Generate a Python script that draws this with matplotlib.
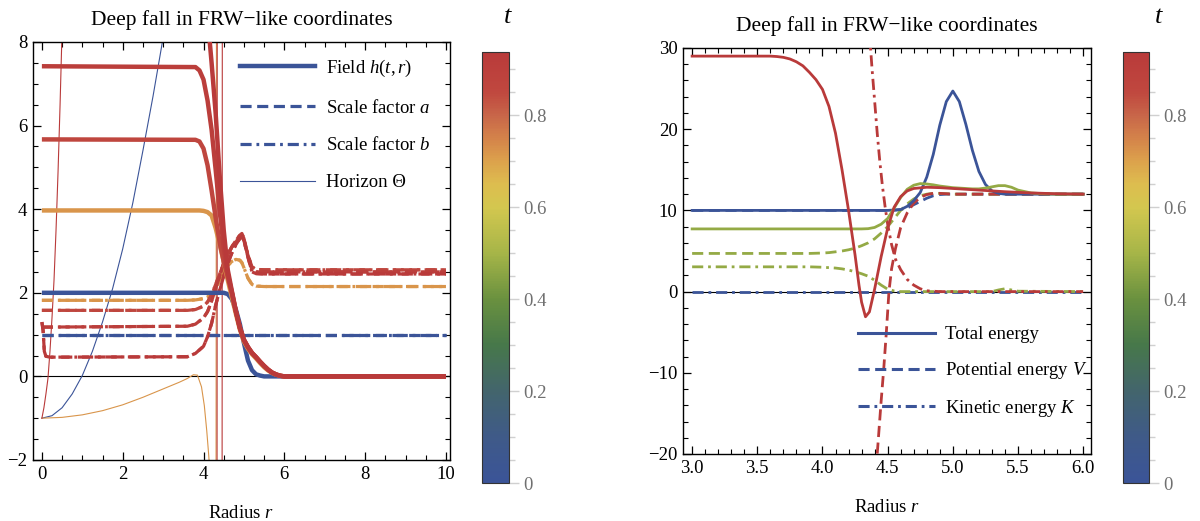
import numpy as np
import matplotlib
matplotlib.use("Agg")
import matplotlib.pyplot as plt
from matplotlib.colors import LinearSegmentedColormap, Normalize
from matplotlib.cm import ScalarMappable
from matplotlib.lines import Line2D
from matplotlib.ticker import MultipleLocator, FormatStrFormatter

plt.rcParams['font.family'] = ['Liberation Serif', 'DejaVu Serif']
plt.rcParams['mathtext.fontset'] = 'custom'
plt.rcParams['mathtext.rm'] = 'Liberation Serif'
plt.rcParams['mathtext.it'] = 'Liberation Serif:italic'
plt.rcParams['lines.scale_dashes'] = False
plt.rcParams['axes.unicode_minus'] = True

# ---------------- colour scale (t) ----------------
cmap_t = [0.00, 0.10, 0.20, 0.30, 0.40, 0.50, 0.60, 0.65, 0.70, 0.75, 0.80, 0.85, 0.937]
cmap_colors = ['#3B5498', '#3F5A88', '#43656C', '#47784A', '#6A913F', '#A6B548',
               '#D3C74F', '#DDBD4F', '#DCA24C', '#D4834A', '#C86649', '#C0483F', '#B93A3A']
t_max = 0.937
cbar_ticks = [0, 0.2, 0.4, 0.6, 0.8]
cbar_labels = ['0', '0.2', '0.4', '0.6', '0.8']

# ---------------- left panel data ----------------
times_left = [0.0, 0.72, 0.86, 0.91, 0.937]

h_r_blue = [0, 4.5, 4.6, 4.7, 4.8, 4.9, 5.0, 5.1, 5.2, 5.3, 5.4, 5.5, 10]
h_blue = [2, 2, 1.97, 1.85, 1.6, 1.25, 0.8, 0.38, 0.15, 0.05, 0.02, 0, 0]

h_r = [0, 3.8, 3.9, 4.0, 4.1, 4.2, 4.3, 4.4, 4.5, 4.6, 4.7, 4.8, 4.9, 5.0,
       5.1, 5.2, 5.3, 5.4, 5.5, 5.6, 5.7, 5.8, 5.9, 6.0, 10]
h_orange = [3.97, 3.97, 3.97, 3.96, 3.93, 3.85, 3.55, 3.15, 2.75, 2.3, 1.9, 1.5, 1.12, 0.83,
            0.66, 0.53, 0.43, 0.32, 0.22, 0.14, 0.08, 0.04, 0.015, 0.0, 0.0]
h_red1 = [5.67, 5.66, 5.62, 5.45, 5.05, 4.45, 3.8, 3.2, 2.75, 2.38, 2.0, 1.55, 1.15, 0.87,
          0.7, 0.56, 0.46, 0.35, 0.25, 0.16, 0.09, 0.045, 0.015, 0.0, 0.0]
h_red2 = [7.42, 7.40, 7.32, 7.1, 6.6, 5.9, 4.95, 3.95, 3.1, 2.45, 2.02, 1.56, 1.16, 0.87,
          0.7, 0.56, 0.46, 0.35, 0.25, 0.16, 0.09, 0.045, 0.015, 0.0, 0.0]
h_red3 = [9.8, 9.8, 9.7, 9.4, 8.6, 7.5, 6.3, 4.8, 3.5, 2.55, 2.05, 1.57, 1.17, 0.88,
          0.7, 0.56, 0.46, 0.35, 0.25, 0.16, 0.09, 0.045, 0.015, 0.0, 0.0]

ab_r = [0, 0.03, 0.06, 0.1, 0.2, 3.6, 3.8, 4.0, 4.1, 4.2, 4.3, 4.4, 4.5, 4.6,
        4.7, 4.8, 4.9, 4.95, 5.0, 5.1, 5.2, 5.3, 5.5, 10]
ab_blue = [1.0] * 24
ab_orange = [1.82, 1.82, 1.82, 1.82, 1.82, 1.82, 1.83, 1.86, 1.9, 1.97, 2.1, 2.3, 2.5, 2.65,
             2.75, 2.8, 2.78, 2.72, 2.6, 2.35, 2.2, 2.16, 2.15, 2.15]
ab_red1 = [1.58, 1.58, 1.58, 1.58, 1.58, 1.58, 1.6, 1.68, 1.78, 1.95, 2.2, 2.45, 2.7, 2.92,
           3.08, 3.22, 3.32, 3.35, 3.25, 2.9, 2.62, 2.56, 2.55, 2.55]
ab_red2 = [1.18, 1.18, 1.18, 1.18, 1.18, 1.2, 1.25, 1.4, 1.55, 1.8, 2.1, 2.4, 2.7, 2.92,
           3.1, 3.25, 3.38, 3.42, 3.3, 2.9, 2.55, 2.5, 2.5, 2.5]
ab_red3 = [1.3, 1.1, 0.6, 0.48, 0.46, 0.47, 0.55, 0.72, 0.95, 1.27, 1.7, 2.06, 2.4, 2.7,
           2.95, 3.15, 3.3, 3.35, 3.25, 2.85, 2.5, 2.46, 2.45, 2.45]

theta_r_blue = [0, 0.25, 0.5, 0.75, 1.0, 1.25, 1.5, 1.75, 2.0, 2.25, 2.5, 2.75, 3.0, 3.1]
theta_blue = [-1, -0.94, -0.75, -0.42, 0.02, 0.6, 1.3, 2.1, 3.05, 4.15, 5.4, 6.7, 8.1, 8.7]
theta_r_orange = [0, 0.5, 1, 1.5, 2, 2.5, 3, 3.4, 3.6, 3.75, 3.85, 3.95, 4.02, 4.08, 4.13, 4.17,
                  np.nan, 4.31, 4.32]
theta_orange = [-1, -0.98, -0.92, -0.82, -0.68, -0.5, -0.3, -0.14, -0.05, 0.04, 0.03, -0.25,
                -0.7, -1.3, -1.9, -2.5, np.nan, -2.5, 8.5]
theta_r_red = [0, 0.05, 0.1, 0.15, 0.2, 0.25, 0.3, 0.35, 0.4, 0.45, 0.5,
               np.nan, 4.335, 4.34, np.nan, 4.46, 4.465]
theta_red = [-1, -0.75, -0.42, -0.05, 0.6, 1.4, 2.3, 3.5, 4.9, 6.5, 8.3,
             np.nan, -2.5, 8.5, np.nan, -2.5, 8.5]

# ---------------- right panel data ----------------
times_right = [0.0, 0.47, 0.937]

E_r_blue = [3.0, 4.5, 4.6, 4.65, 4.7, 4.75, 4.8, 4.85, 4.9, 4.95, 5.0, 5.05, 5.1, 5.15,
            5.2, 5.25, 5.3, 5.35, 5.4, 6.0]
E_blue = [10.0, 10.0, 10.1, 10.5, 11.2, 12.2, 14.1, 16.9, 20.5, 23.4, 24.7, 23.4, 20.6, 17.4,
          14.8, 13.2, 12.4, 12.1, 12.0, 12.0]
V_r_blue = [3.0, 4.5, 4.55, 4.6, 4.65, 4.7, 4.75, 4.8, 4.85, 4.9, 4.95, 6.0]
V_blue = [10.0, 10.0, 10.02, 10.1, 10.3, 10.7, 11.1, 11.5, 11.8, 11.95, 12.0, 12.0]
K_r_blue = [3.0, 6.0]
K_blue = [0.0, 0.0]

E_r_green = [3.0, 4.3, 4.35, 4.4, 4.45, 4.5, 4.55, 4.6, 4.65, 4.7, 4.75, 4.8, 4.85, 4.9,
             4.95, 5.0, 5.05, 5.1, 5.15, 5.2, 5.25, 5.3, 5.35, 5.4, 5.45, 5.5, 5.6, 5.7, 5.8, 6.0]
E_green = [7.72, 7.72, 7.75, 7.9, 8.3, 9.0, 10.3, 11.6, 12.6, 13.1, 13.3, 13.25, 13.15, 13.0,
           12.9, 12.8, 12.75, 12.7, 12.65, 12.65, 12.75, 12.9, 13.05, 13.05, 12.85, 12.5, 12.15,
           12.05, 12.0, 12.0]
V_r_green = [3.0, 3.9, 4.0, 4.05, 4.1, 4.15, 4.2, 4.25, 4.3, 4.35, 4.4, 4.45, 4.5, 4.55,
             4.6, 4.65, 4.7, 4.75, 4.8, 4.85, 4.9, 5.0, 6.0]
V_green = [4.7, 4.7, 4.75, 4.8, 4.9, 5.0, 5.15, 5.35, 5.65, 6.0, 6.5, 7.2, 8.0, 9.0,
           10.0, 10.8, 11.4, 11.8, 12.0, 12.1, 12.1, 12.0, 12.0]
K_r_green = [3.0, 3.9, 4.0, 4.1, 4.15, 4.2, 4.25, 4.3, 4.35, 4.4, 4.45, 4.5, 4.55, 4.6,
             5.3, 5.35, 5.4, 5.45, 5.5, 6.0]
K_green = [3.05, 3.05, 3.0, 2.9, 2.8, 2.65, 2.45, 2.2, 1.9, 1.4, 0.8, 0.3, 0.08, 0.0,
           0.0, 0.2, 0.35, 0.2, 0.05, 0.0]

E_r_red = [3.0, 3.6, 3.65, 3.7, 3.75, 3.8, 3.85, 3.9, 3.95, 4.0, 4.05, 4.1, 4.15, 4.2, 4.25,
           4.28, 4.3, 4.33, 4.36, 4.4, 4.45, 4.5, 4.55, 4.6, 4.65, 4.7, 4.8, 4.9, 5.0, 5.2,
           5.4, 5.6, 5.8, 6.0]
E_red = [29.0, 29.0, 28.95, 28.85, 28.65, 28.3, 27.8, 27.0, 26.1, 24.9, 22.8, 19.5, 15.0,
         10.0, 4.5, 0.8, -1.3, -3.1, -2.5, 0.3, 4.3, 7.8, 10.4, 11.7, 12.4, 12.7, 12.85,
         12.8, 12.7, 12.5, 12.3, 12.15, 12.05, 12.0]
V_r_red = [4.41, 4.42, 4.45, 4.47, 4.49, 4.51, 4.53, 4.56, 4.6, 4.65, 4.7, 4.75, 4.8, 4.85,
           4.9, 5.0, 6.0]
V_red = [-22, -20, -13.5, -9.5, -5, 0, 2.8, 5.3, 7.9, 9.7, 10.9, 11.6, 11.95, 12.1,
         12.1, 12.0, 12.0]
K_r_red = [4.36, 4.38, 4.4, 4.42, 4.44, 4.46, 4.48, 4.5, 4.53, 4.56, 4.6, 4.65, 4.7, 4.75,
           4.8, 4.9, 6.0]
K_red = [32, 27.5, 23.5, 19.5, 16, 13, 10.5, 8.3, 5.8, 4.0, 2.7, 1.5, 0.8, 0.35, 0.1, 0.0, 0.0]

# ---------------- figure ----------------
cmap = LinearSegmentedColormap.from_list(
    'darkrainbow', list(zip([t / t_max for t in cmap_t], cmap_colors)))
norm = Normalize(vmin=0, vmax=t_max)

W, H = 1200, 521
fig = plt.figure(figsize=(W / 100, H / 100), dpi=100)


def box(x0, y0, x1, y1):
    return [x0 / W, 1 - y1 / H, (x1 - x0) / W, (y1 - y0) / H]


ax1 = fig.add_axes(box(33, 42, 450, 460))
ax2 = fig.add_axes(box(683, 48, 1091, 454))
cax1 = fig.add_axes(box(482, 52, 509, 483))
cax2 = fig.add_axes(box(1123, 52, 1149, 483))

DASH = (8, 4)
DASHDOT = (8, 3.5, 2, 3.5)
TITLE = "Deep fall in FRW\u2212like coordinates"
FS_TICK = 13.5
FS_LEG = 13.5

# left panel
c = [cmap(norm(t)) for t in times_left]
lw_h, lw_ab, lw_th = 3.2, 2.3, 0.8
ax1.axhline(0, color='black', lw=0.8, zorder=1.5)
ax1.plot(theta_r_blue, theta_blue, color=c[0], lw=lw_th, zorder=2)
ax1.plot(theta_r_orange, theta_orange, color=c[1], lw=lw_th, zorder=2)
ax1.plot(theta_r_red, theta_red, color=c[4], lw=lw_th, zorder=2)
for col, ab in zip(c, [ab_blue, ab_orange, ab_red1, ab_red2, ab_red3]):
    ax1.plot(ab_r, ab, color=col, lw=lw_ab, dashes=DASH, zorder=3)
    ax1.plot(ab_r, ab, color=col, lw=lw_ab, dashes=DASHDOT, zorder=3)
ax1.plot(h_r_blue, h_blue, color=c[0], lw=lw_h, zorder=4, solid_capstyle='butt')
for col, hv in zip(c[1:], [h_orange, h_red1, h_red2, h_red3]):
    ax1.plot(h_r, hv, color=col, lw=lw_h, zorder=4, solid_capstyle='butt')

ax1.set_xlim(-0.22, 10.1)
ax1.set_ylim(-2, 8)
ax1.xaxis.set_major_locator(MultipleLocator(2))
ax1.xaxis.set_minor_locator(MultipleLocator(0.5))
ax1.yaxis.set_major_locator(MultipleLocator(2))
ax1.yaxis.set_minor_locator(MultipleLocator(0.5))

blue = c[0]
leg1_handles = [Line2D([], [], color=blue, lw=3.2),
                Line2D([], [], color=blue, lw=2.3, dashes=DASH),
                Line2D([], [], color=blue, lw=2.3, dashes=DASHDOT),
                Line2D([], [], color=blue, lw=0.8)]
leg1_labels = ["Field $h(t,r)$", "Scale factor $a$", "Scale factor $b$", "Horizon \u0398"]
ax1.legend(leg1_handles, leg1_labels, loc='upper left', bbox_to_anchor=(0.496, 0.962),
           frameon=False, fontsize=FS_LEG, handlelength=4.0, handletextpad=0.6,
           labelspacing=1.05, borderpad=0, borderaxespad=0)

# right panel
cr = [cmap(norm(t)) for t in times_right]
lw_e = 2.0
ax2.axhline(0, color='black', lw=0.8, zorder=1.5)
for col, (er, ev), (vr, vv), (kr, kv) in zip(
        cr,
        [(E_r_blue, E_blue), (E_r_green, E_green), (E_r_red, E_red)],
        [(V_r_blue, V_blue), (V_r_green, V_green), (V_r_red, V_red)],
        [(K_r_blue, K_blue), (K_r_green, K_green), (K_r_red, K_red)]):
    ax2.plot(kr, kv, color=col, lw=lw_e, dashes=DASHDOT, zorder=3)
    ax2.plot(vr, vv, color=col, lw=lw_e, dashes=DASH, zorder=3)
    ax2.plot(er, ev, color=col, lw=lw_e, zorder=4)

ax2.set_xlim(2.93, 6.06)
ax2.set_ylim(-20, 30)
ax2.xaxis.set_major_locator(MultipleLocator(0.5))
ax2.xaxis.set_minor_locator(MultipleLocator(0.1))
ax2.yaxis.set_major_locator(MultipleLocator(10))
ax2.yaxis.set_minor_locator(MultipleLocator(2))
ax2.xaxis.set_major_formatter(FormatStrFormatter('%.1f'))

leg2_handles = [Line2D([], [], color=blue, lw=2.2),
                Line2D([], [], color=blue, lw=2.2, dashes=DASH),
                Line2D([], [], color=blue, lw=2.2, dashes=DASHDOT)]
leg2_labels = ["Total energy", "Potential energy $V$", "Kinetic energy $K$"]
ax2.legend(leg2_handles, leg2_labels, loc='upper left', bbox_to_anchor=(0.429, 0.315),
           frameon=False, fontsize=FS_LEG, handlelength=4.1, handletextpad=0.55,
           labelspacing=0.9, borderpad=0, borderaxespad=0)

for ax in (ax1, ax2):
    ax.set_title(TITLE, fontsize=15.5, pad=12)
    ax.set_xlabel("Radius $r$", fontsize=13.5, labelpad=16)
    ax.tick_params(which='both', direction='in', top=True, right=True, labelsize=FS_TICK,
                   color='black')
    ax.tick_params(which='major', length=6, width=0.9, pad=4)
    ax.tick_params(which='minor', length=3.5, width=0.8)
    for s in ax.spines.values():
        s.set_linewidth(1.0)

# colorbars
sm = ScalarMappable(norm=norm, cmap=cmap)
for cax, tx in ((cax1, 508), (cax2, 1159)):
    cb = fig.colorbar(sm, cax=cax)
    cb.set_ticks(cbar_ticks)
    cb.ax.set_yticklabels(cbar_labels)
    cb.ax.yaxis.set_minor_locator(MultipleLocator(0.05))
    cb.ax.tick_params(which='both', direction='out', colors='#d0d0d0', labelcolor='#707070',
                      labelsize=FS_TICK, width=1.0)
    cb.ax.tick_params(which='major', length=7, pad=3)
    cb.ax.tick_params(which='minor', length=4.5)
    cb.outline.set_edgecolor('#333333')
    cb.outline.set_linewidth(0.8)
    fig.text(tx / W, 1 - 17 / H, "$t$", fontsize=19, ha='center', va='center')

fig.savefig("out.png", dpi=100)
